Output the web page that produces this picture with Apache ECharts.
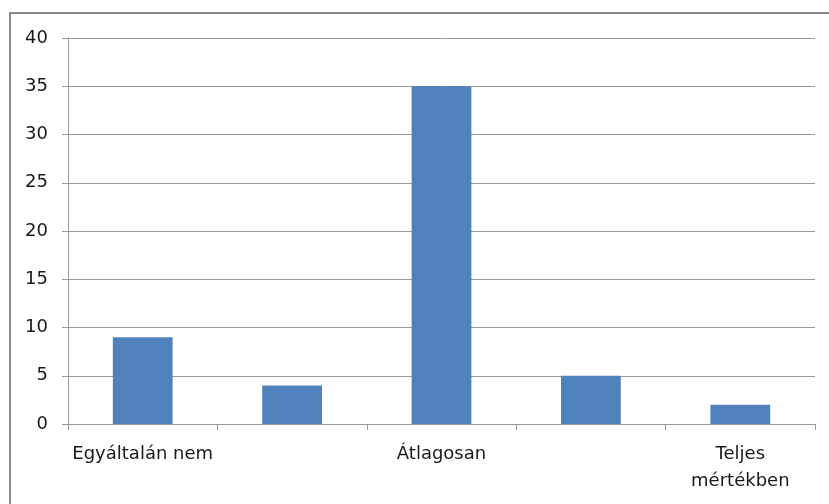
<!DOCTYPE html>
<html>
<head>
<meta charset="utf-8">
<script src="https://cdn.jsdelivr.net/npm/echarts@6/dist/echarts.min.js"></script>
<style>
  html, body { margin: 0; padding: 0; background: #fff; }
  #chart { width: 829px; height: 504px; }
</style>
</head>
<body>
<div id="chart"></div>
<script>
// Answer categories (middle steps of the scale have no label)
const categories = ['Egyáltalán nem', '', 'Átlagosan', '', 'Teljes\nmértékben'];
// Number of responses per category
const counts = [9, 4, 35, 5, 2];
// Value axis scale
const yMin = 0;
const yMax = 40;
const yStep = 5;

const axisGray = '#9a9a9a';
const textColor = '#1a1a1a';
const fontFamily = '"DejaVu Sans", sans-serif';

const chart = echarts.init(document.getElementById('chart'), null, { renderer: 'canvas' });
chart.setOption({
  animation: false,
  backgroundColor: '#ffffff',
  graphic: [{
    type: 'rect',
    shape: { x: 10, y: 13, width: 900, height: 600 },
    style: { fill: 'none', stroke: '#898989', lineWidth: 2 },
    silent: true
  }],
  grid: { left: 68, right: 14, top: 38, bottom: 80 },
  xAxis: {
    type: 'category',
    data: categories,
    axisLine: { lineStyle: { color: axisGray, width: 1 } },
    axisTick: { show: true, length: 6, lineStyle: { color: axisGray } },
    axisLabel: {
      color: textColor, fontFamily, fontSize: 18, margin: 17,
      lineHeight: 27, interval: 0
    }
  },
  yAxis: {
    type: 'value',
    min: yMin, max: yMax, interval: yStep,
    axisLine: { show: true, lineStyle: { color: axisGray, width: 1 } },
    axisTick: { show: true, length: 6, lineStyle: { color: axisGray } },
    splitLine: { show: true, lineStyle: { color: axisGray, width: 1 } },
    axisLabel: { color: textColor, fontFamily, fontSize: 18, margin: 20 }
  },
  series: [{
    type: 'bar',
    data: counts,
    barWidth: '40%',
    itemStyle: { color: '#4f81bd' }
  }]
});
</script>
</body>
</html>
